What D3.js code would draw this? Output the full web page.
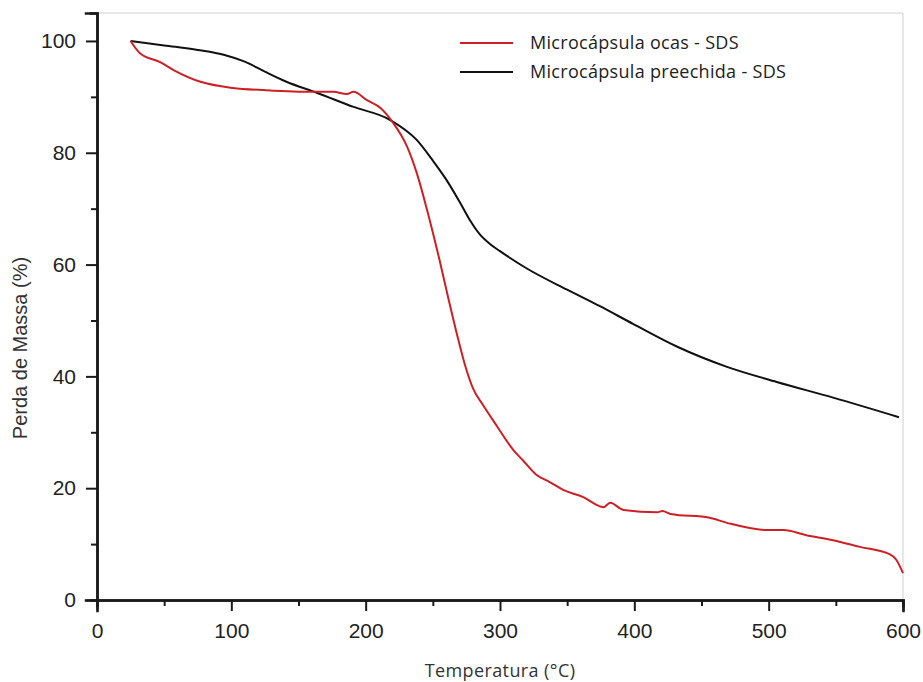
<!DOCTYPE html>
<html>
<head>
<meta charset="utf-8">
<script src="https://cdn.jsdelivr.net/npm/d3@7"></script>
<style>
  body { margin: 0; background: #fff; }
</style>
</head>
<body>
<script>
let width = 923;
let height = 682;

// series: temperature (°C) and mass (%)
let ocasT = [25, 32, 47, 57, 77, 101, 126, 161, 176, 186, 191, 201, 211, 220, 231, 238, 246, 255, 262, 268, 274, 280, 287, 298, 310, 317, 327, 337, 347, 362, 374, 377, 382, 392, 417, 421, 427, 456, 469, 499, 511, 528, 548, 568, 590, 595, 600];
let ocasV = [100, 97.8, 96.2, 94.8, 92.7, 91.6, 91.2, 90.9, 90.9, 90.5, 90.9, 89.4, 88, 85.5, 81, 76.4, 69.5, 60.8, 53.5, 47.5, 42, 37.8, 35, 31, 26.8, 25, 22.4, 21.1, 19.7, 18.4, 16.8, 16.6, 17.4, 16.1, 15.7, 15.9, 15.4, 14.7, 13.8, 12.5, 12.5, 11.6, 10.7, 9.5, 8.2, 7.2, 4.8];

let preT = [25, 50, 75, 95, 110, 125, 141, 164, 191, 218, 238, 250, 260, 270, 278, 285, 293, 300, 320, 350, 374, 399, 432, 469, 506, 548, 597];
let preV = [100, 99.2, 98.4, 97.5, 96.3, 94.5, 92.7, 90.7, 88.2, 85.9, 82.3, 78.6, 75.2, 71.2, 67.8, 65.4, 63.6, 62.4, 59.3, 55.5, 52.6, 49.4, 45.3, 41.7, 39, 36.2, 32.7];

let xTicks = [0, 100, 200, 300, 400, 500, 600];
let yTicks = [0, 20, 40, 60, 80, 100];
let seriesNames = ['Microcápsula ocas - SDS', 'Microcápsula preechida - SDS'];
let seriesColors = ['#cc2026', '#111111'];

let margin = { left: 97, right: 20, top: 13, bottom: 82 };

let xScale = d3.scaleLinear().domain([0, 600]).range([margin.left, width - margin.right]);
let yScale = d3.scaleLinear().domain([0, 105]).range([height - margin.bottom, margin.top]);

let svg = d3.select('body').append('svg')
            .attr('width', width)
            .attr('height', height);

// light frame top and right
svg.append('path')
    .attr('d', 'M' + xScale(0) + ',' + yScale(105) + 'H' + xScale(600) + 'V' + yScale(0))
    .attr('fill', 'none')
    .attr('stroke', '#cfcfcf')
    .attr('stroke-width', 1);

let series = [
    ocasT.map(function(t, i) { return [t, ocasV[i]]; }),
    preT.map(function(t, i) { return [t, preV[i]]; })
];

let line = d3.line()
    .x(function(d) { return xScale(d[0]); })
    .y(function(d) { return yScale(d[1]); })
    .curve(d3.curveMonotoneX);

// draw black first, red on top where they cross
[1, 0].forEach(function(k) {
    svg.append('path')
        .datum(series[k])
        .attr('d', line)
        .attr('fill', 'none')
        .attr('stroke', seriesColors[k])
        .attr('stroke-width', 2);
});

// axes
let xAxis = d3.axisBottom(xScale).tickValues(xTicks).tickSize(11).tickPadding(12);
let xMinor = d3.axisBottom(xScale).tickValues(d3.range(50, 600, 100)).tickSize(6).tickFormat('');
let yAxis = d3.axisLeft(yScale).tickValues(yTicks).tickSize(11).tickPadding(10);
let yMinor = d3.axisLeft(yScale).tickValues(d3.range(10, 100, 20)).tickSize(6).tickFormat('');

function styleAxis(g) {
    g.selectAll('path, line').attr('stroke', '#1a1a1a').attr('stroke-width', 2);
    g.select('.domain').attr('stroke-width', 2.5);
    g.selectAll('text')
        .attr('fill', '#222')
        .style('font-family', 'Liberation Sans, Arial, sans-serif')
        .style('font-size', '21px');
}

svg.append('g').attr('transform', 'translate(0,' + yScale(0) + ')').call(xMinor).call(styleAxis);
svg.append('g').attr('transform', 'translate(0,' + yScale(0) + ')').call(xAxis).call(styleAxis);
svg.append('g').attr('transform', 'translate(' + xScale(0) + ',0)').call(yMinor).call(styleAxis);
svg.append('g').attr('transform', 'translate(' + xScale(0) + ',0)').call(yAxis).call(styleAxis);

svg.selectAll('.domain').attr('stroke-linecap', 'square');

// axis titles
svg.append('text')
    .attr('x', (xScale(0) + xScale(600)) / 2)
    .attr('y', 677)
    .attr('text-anchor', 'middle')
    .attr('fill', '#333')
    .style('font-family', 'Open Sans, sans-serif')
    .style('font-size', '18px')
    .style('letter-spacing', '0.4px')
    .text('Temperatura (°C)');

svg.append('text')
    .attr('transform', 'translate(27,' + 348 + ') rotate(-90)')
    .attr('text-anchor', 'middle')
    .attr('fill', '#333')
    .style('font-family', 'Liberation Sans, Arial, sans-serif')
    .style('font-size', '20px')
    .text('Perda de Massa (%)');

// legend
let legend = svg.append('g');
seriesNames.forEach(function(name, i) {
    let y = 43 + i * 29;
    legend.append('line')
        .attr('x1', 460).attr('x2', 513)
        .attr('y1', y).attr('y2', y)
        .attr('stroke', seriesColors[i])
        .attr('stroke-width', 2);
    legend.append('text')
        .attr('x', 530)
        .attr('y', y + 6)
        .attr('fill', '#222')
        .style('font-family', 'Open Sans, sans-serif')
        .style('font-size', '18px')
        .style('letter-spacing', '0.3px')
        .text(name);
});
</script>
</body>
</html>
